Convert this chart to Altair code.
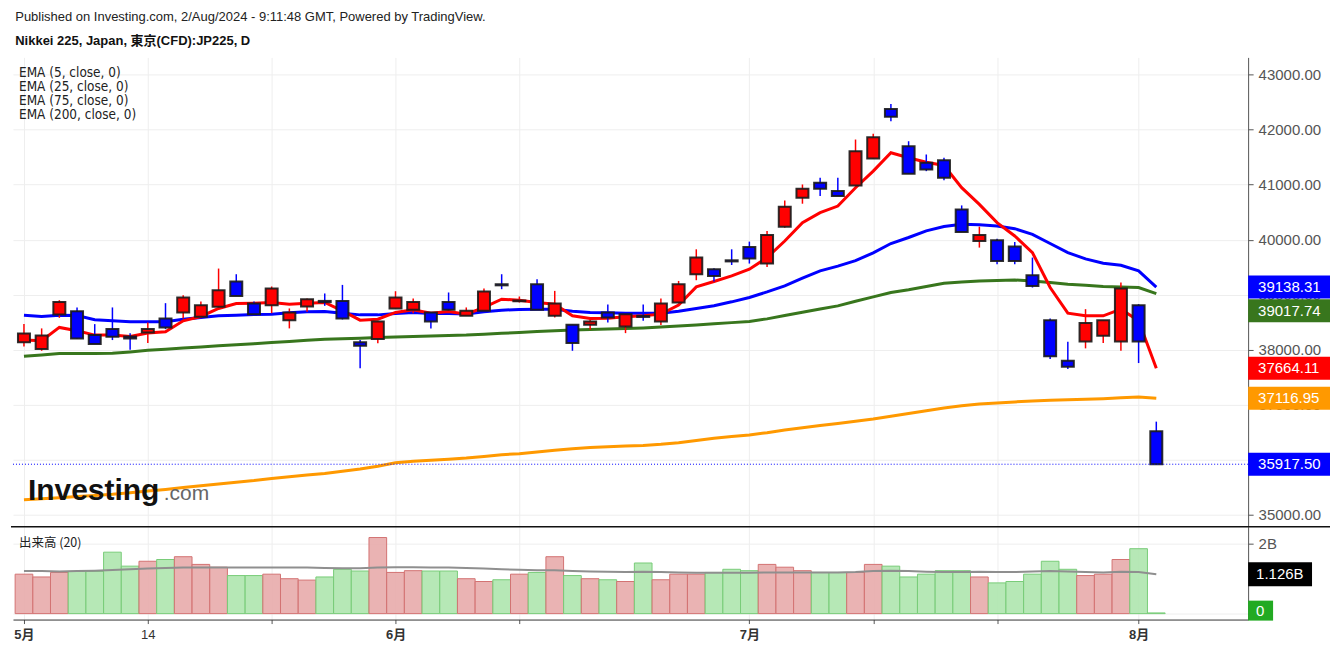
import altair as alt
import pandas as pd

# ---------------- data ----------------
dates = (["2024-05-%02d" % d for d in [1, 2, 7, 8, 9, 10, 13, 14, 15, 16, 17, 20, 21, 22, 23, 24, 27, 28, 29, 30, 31]]
         + ["2024-06-%02d" % d for d in [3, 4, 5, 6, 7, 10, 11, 12, 13, 14, 17, 18, 19, 20, 21, 24, 25, 26, 27, 28]]
         + ["2024-07-%02d" % d for d in [1, 2, 3, 4, 5, 8, 9, 10, 11, 12, 16, 17, 18, 19, 22, 23, 24, 25, 26, 29, 30, 31]]
         + ["2024-08-01", "2024-08-02"])

open_ = [38133, 38011, 38641, 38701, 38265, 38374, 38242, 38314, 38568, 38677,
         38597, 38779, 39239, 38840, 38809, 38537, 38786, 38887, 38887, 38133,
         38193, 38750, 38724, 38677, 38869, 38615, 38706, 39190, 38880, 39190,
         38615, 38452, 38452, 38677, 38423, 38615, 38514, 38858, 39372, 39462,
         39625, 39867, 39566, 40237, 40763, 41035, 40883, 40986, 41476, 42378,
         41699, 41398, 41445, 40551, 39976, 39989, 39874, 39354, 38537, 37799,
         38151, 38253, 38151, 38809, 36518]
high = [38465, 38387, 38900, 38768, 38465, 38768, 38301, 38496, 38846, 38991,
        38877, 39475, 39372, 38877, 39149, 38750, 38931, 39022, 39178, 38175,
        38514, 39063, 38931, 38677, 39040, 38768, 39112, 39372, 38967, 39281,
        39069, 38452, 38555, 38822, 38646, 38822, 38931, 39250, 39825, 39481,
        39825, 39965, 40157, 40714, 41004, 41126, 41126, 41821, 41924, 42468,
        41790, 41549, 41489, 40623, 40237, 40019, 39958, 39675, 38568, 38144,
        38737, 38537, 39221, 38828, 36692]
low = [38060, 37980, 38579, 38205, 38102, 38175, 37999, 38120, 38374, 38568,
       38597, 38779, 38978, 38628, 38664, 38387, 38688, 38797, 38550, 37661,
       38115, 38750, 38664, 38387, 38724, 38615, 38706, 39100, 38858, 38724,
       38586, 37980, 38361, 38496, 38301, 38525, 38447, 38858, 39263, 39239,
       39540, 39566, 39504, 40219, 40654, 40792, 40792, 40986, 41476, 42153,
       41198, 41246, 41082, 40139, 39856, 39553, 39553, 39130, 37830, 37648,
       38024, 38120, 37980, 37757, 35917.5]
close = [38296, 38260, 38869, 38205, 38102, 38234, 38205, 38374, 38405, 38949,
         38809, 39082, 38978, 38646, 39112, 38677, 38918, 38864, 38568, 38071,
         38514, 38949, 38869, 38514, 38724, 38706, 39058, 39170, 38895, 38724,
         38840, 38120, 38514, 38586, 38646, 38595, 38840, 39190, 39675, 39341,
         39605, 39657, 40085, 40600, 40926, 40926, 40792, 41609, 41862, 42233,
         41198, 41276, 41126, 40139, 40085, 39613, 39613, 39160, 37879, 37690,
         38483, 38537, 39112, 38151, 35917.5]

volume_b = [1.13, 1.05, 1.18, 1.21, 1.21, 1.76, 1.36, 1.50, 1.55, 1.63,
            1.41, 1.33, 1.09, 1.09, 1.13, 1.00, 0.96, 1.05, 1.27, 1.22,
            2.18, 1.18, 1.23, 1.22, 1.22, 1.00, 0.92, 0.97, 1.13, 1.18,
            1.63, 1.09, 1.00, 0.97, 0.92, 1.45, 0.97, 1.13, 1.13, 1.18,
            1.27, 1.23, 1.41, 1.33, 1.23, 1.18, 1.18, 1.18, 1.41, 1.36,
            1.05, 1.13, 1.23, 1.23, 1.05, 0.88, 0.92, 1.13, 1.50, 1.27,
            1.09, 1.13, 1.55, 1.86, 0.02]
vol_ma_b = [1.22, 1.22, 1.21, 1.22, 1.23, 1.25, 1.27, 1.29, 1.31, 1.32,
            1.32, 1.32, 1.32, 1.32, 1.32, 1.32, 1.32, 1.31, 1.30, 1.30,
            1.32, 1.33, 1.33, 1.32, 1.32, 1.31, 1.29, 1.27, 1.26, 1.24,
            1.24, 1.22, 1.21, 1.20, 1.19, 1.20, 1.19, 1.18, 1.17, 1.17,
            1.17, 1.17, 1.18, 1.18, 1.18, 1.18, 1.18, 1.19, 1.22, 1.23,
            1.22, 1.20, 1.19, 1.19, 1.20, 1.19, 1.19, 1.21, 1.22, 1.21,
            1.19, 1.18, 1.20, 1.19, 1.126]

ema5 = [38175, 38162, 38405, 38343, 38265, 38265, 38242, 38302, 38325, 38525,
        38604, 38750, 38840, 38846, 38858, 38827, 38846, 38858, 38706, 38537,
        38555, 38677, 38725, 38664, 38695, 38646, 38768, 38918, 38900, 38858,
        38827, 38616, 38568, 38573, 38597, 38616, 38646, 38810, 39142, 39239,
        39341, 39462, 39675, 39976, 40310, 40491, 40611, 40945, 41246, 41580,
        41489, 41409, 41349, 40945, 40642, 40310, 40067, 39765, 39131, 38664,
        38616, 38616, 38737, 38525, 37664.11]
ema25 = [38628, 38604, 38628, 38620, 38543, 38525, 38507, 38507, 38507, 38555,
         38586, 38616, 38628, 38640, 38646, 38670, 38690, 38695, 38664, 38633,
         38633, 38660, 38677, 38659, 38659, 38650, 38690, 38719, 38730, 38737,
         38737, 38700, 38677, 38670, 38664, 38664, 38664, 38700, 38750, 38800,
         38870, 38949, 39050, 39160, 39300, 39432, 39520, 39620, 39760, 39930,
         40040, 40160, 40240, 40279, 40270, 40250, 40200, 40097, 39930, 39765,
         39650, 39571, 39535, 39432, 39138.31]
ema75 = [37880, 37905, 37930, 37930, 37932, 37935, 37960, 37990, 38010, 38030,
         38050, 38070, 38090, 38110, 38130, 38150, 38170, 38190, 38200, 38210,
         38220, 38230, 38240, 38250, 38258, 38265, 38280, 38297, 38314, 38330,
         38345, 38360, 38368, 38376, 38385, 38395, 38412, 38430, 38450, 38470,
         38492, 38514, 38560, 38620, 38680, 38740, 38797, 38880, 38960, 39040,
         39090, 39150, 39208, 39230, 39250, 39260, 39268, 39250, 39220, 39190,
         39170, 39150, 39140, 39131, 39017.74]
ema200 = [35272, 35290, 35310, 35330, 35350, 35370, 35400, 35430, 35460, 35495,
          35526, 35560, 35590, 35620, 35660, 35690, 35720, 35750, 35790, 35830,
          35880, 35943, 35970, 35990, 36010, 36030, 36060, 36090, 36110, 36140,
          36170, 36200, 36220, 36235, 36250, 36260, 36280, 36310, 36350, 36390,
          36420, 36451, 36490, 36540, 36580, 36620, 36660, 36700, 36741, 36790,
          36840, 36890, 36940, 36980, 37014, 37030, 37050, 37068, 37080, 37090,
          37100, 37110, 37125, 37141, 37116.95]

tick_idx = [0, 7, 14, 21, 28, 41, 48, 55, 63]
tick_text = ["5月", "14", "", "6月", "", "7月", "", "", "8月"]
price_ticks = [35000, 36000, 37000, 38000, 39000, 40000, 41000, 42000, 43000]
vol_ticks = [0, 2]

last_values = [39138.31, 37664.11, 37116.95, 35917.50]
last_colors = ["#0000FF", "#FF0000", "#FF9900", "#0000FF"]
ema75_last = [39017.74]
legend_lines = ["EMA (5, close, 0)", "EMA (25, close, 0)", "EMA (75, close, 0)", "EMA (200, close, 0)"]

# ---------------- tables ----------------
df = pd.DataFrame({"idx": list(range(len(dates))), "date": dates, "open": open_, "high": high,
                   "low": low, "close": close, "vol": volume_b, "vma": vol_ma_b,
                   "ema5": ema5, "ema25": ema25, "ema75": ema75, "ema200": ema200})
df["dir"] = ["up" if c >= o else "down" for o, c in zip(open_, close)]

lab = pd.DataFrame({"v": last_values, "c": last_colors, "t": ["%.2f" % v for v in last_values]})
lab75 = pd.DataFrame({"v": ema75_last, "t": ["%.2f" % v for v in ema75_last]})
one = pd.DataFrame({"a": [0]})

W = 1237
HP = 469
HV = 93
BOXW = 82
FONT = "Liberation Sans, Arial, Noto Sans CJK JP"

xs = alt.Scale(domain=[-0.62, 69.19], nice=False, zero=False, padding=0)
ys = alt.Scale(domain=[34800, 43314], nice=False, zero=False, padding=0)
vs = alt.Scale(domain=[-0.17, 2.49], nice=False, zero=False, padding=0)

x_price_axis = alt.Axis(values=tick_idx, grid=True, gridColor="#eeeeee", labels=False, ticks=False,
                        domain=False, title=None)
y_price_axis = alt.Axis(orient="right", values=price_ticks, format=".2f", grid=True, gridColor="#eeeeee",
                        labelFontSize=15, labelColor="#555555", labelFont=FONT, tickColor="#555555",
                        domainColor="#555555", tickSize=5, labelPadding=5, title=None)

base = alt.Chart(df)
X = alt.X("idx:Q", scale=xs, axis=x_price_axis)

lines = []
for col, colr in [("ema200", "#FF9900"), ("ema75", "#38761D"), ("ema25", "#0000FF"), ("ema5", "#FF0000")]:
    lines.append(base.mark_line(color=colr, strokeWidth=3).encode(
        x=X, y=alt.Y(col + ":Q", scale=ys, axis=y_price_axis)))

dir_scale = alt.Scale(domain=["up", "down"], range=["#FF0000", "#0000FF"])
wicks = base.mark_rule(strokeWidth=1.5).encode(
    x=X, y=alt.Y("low:Q", scale=ys), y2="high:Q",
    color=alt.Color("dir:N", scale=dir_scale, legend=None))
bodies = base.mark_bar(width=12, stroke="#1a1a1a", strokeWidth=2, strokeOpacity=0.9).encode(
    x=X, y=alt.Y("open:Q", scale=ys), y2="close:Q",
    color=alt.Color("dir:N", scale=dir_scale, legend=None))

cur_line = alt.Chart(lab.iloc[[3]]).mark_rule(color="#0000FF", strokeDash=[1, 2], strokeWidth=1).encode(
    y=alt.Y("v:Q", scale=ys))

lab_box = alt.Chart(lab).mark_bar(height=23).encode(
    x=alt.value(W), x2=alt.value(W + BOXW), y=alt.Y("v:Q", scale=ys),
    color=alt.Color("c:N", scale=None))
lab_txt = alt.Chart(lab).mark_text(align="left", baseline="middle", color="white", fontSize=15, font=FONT).encode(
    x=alt.value(W + 10), y=alt.Y("v:Q", scale=ys), text="t:N")
lab75_box = alt.Chart(lab75).mark_bar(height=23, color="#38761D", yOffset=17).encode(
    x=alt.value(W), x2=alt.value(W + BOXW), y=alt.Y("v:Q", scale=ys))
lab75_txt = alt.Chart(lab75).mark_text(align="left", baseline="middle", color="white", fontSize=15, font=FONT,
                                       yOffset=17).encode(
    x=alt.value(W + 10), y=alt.Y("v:Q", scale=ys), text="t:N")

legend = alt.Chart(one).mark_text(text=legend_lines, align="left", baseline="top", fontSize=13.5,
                                  lineHeight=14, font="Liberation Sans Narrow, DejaVu Sans Condensed, Arial",
                                  color="#222222").encode(x=alt.value(6), y=alt.value(9))
logo1 = alt.Chart(one).mark_text(text="Investing", align="left", baseline="alphabetic", fontSize=30,
                                 fontWeight="bold", font=FONT, color="#111111").encode(
    x=alt.value(15), y=alt.value(443))
logo2 = alt.Chart(one).mark_text(text=".com", align="left", baseline="alphabetic", fontSize=21,
                                 font=FONT, color="#666666").encode(x=alt.value(151), y=alt.value(443))

price = alt.layer(*lines, wicks, bodies, cur_line, lab_box, lab_txt, lab75_box, lab75_txt,
                  legend, logo1, logo2).properties(width=W, height=HP)

# ---------------- volume panel ----------------
label_expr = " : ".join("datum.value == %d ? '%s'" % (i, t) for i, t in zip(tick_idx, tick_text)) + " : ''"
x_vol_axis = alt.Axis(values=tick_idx, labelExpr=label_expr, grid=True, gridColor="#eeeeee",
                      tickSize=4, tickColor="#555555", domainColor="#333333", labelFontSize=13,
                      labelColor="#333333", labelFont=FONT, labelPadding=5, title=None, labelFlush=False,
                      labelFontWeight={"condition": {"test": "datum.value != 7", "value": "bold"},
                                       "value": "normal"})
y_vol_axis = alt.Axis(orient="right", values=vol_ticks, labelExpr="datum.value == 0 ? '0' : datum.value + 'B'",
                      grid=True, gridColor="#eeeeee", labelFontSize=15, labelColor="#555555", labelFont=FONT,
                      tickColor="#555555", domainColor="#555555", tickSize=5, labelPadding=5, title=None)

vbase = alt.Chart(df)
XV = alt.X("idx:Q", scale=xs, axis=x_vol_axis)
vbars = vbase.mark_bar(width=17.7, strokeWidth=1, fillOpacity=0.9).encode(
    x=XV, y=alt.Y("vol:Q", scale=vs, axis=y_vol_axis), y2=alt.datum(0),
    fill=alt.Fill("dir:N", scale=alt.Scale(domain=["up", "down"], range=["#E8ABAB", "#AEE5AE"]), legend=None),
    stroke=alt.Stroke("dir:N", scale=alt.Scale(domain=["up", "down"], range=["#D37272", "#78CC78"]), legend=None))
vma = vbase.mark_line(color="#8f8f8f", strokeWidth=2).encode(x=XV, y=alt.Y("vma:Q", scale=vs))

vlab = pd.DataFrame({"v": [vol_ma_b[-1]], "t": ["%.3fB" % vol_ma_b[-1]]})
vzero = pd.DataFrame({"v": [0.0], "t": ["0"]})
vlab_box = alt.Chart(vlab).mark_bar(height=24, color="#000000").encode(
    x=alt.value(W), x2=alt.value(W + 64), y=alt.Y("v:Q", scale=vs))
vlab_txt = alt.Chart(vlab).mark_text(align="left", baseline="middle", color="white", fontSize=15, font=FONT).encode(
    x=alt.value(W + 8), y=alt.Y("v:Q", scale=vs), text="t:N")
vzero_box = alt.Chart(vzero).mark_bar(height=20, color="#22AA22", yOffset=-3).encode(
    x=alt.value(W), x2=alt.value(W + 25), y=alt.Y("v:Q", scale=vs))
vzero_txt = alt.Chart(vzero).mark_text(align="left", baseline="middle", color="white", fontSize=15, font=FONT,
                                       yOffset=-3).encode(
    x=alt.value(W + 8), y=alt.Y("v:Q", scale=vs), text="t:N")
vtitle = alt.Chart(one).mark_text(text="出来高 (20)", align="left", baseline="middle", fontSize=12.5,
                                  font="Noto Sans CJK JP", color="#222222").encode(x=alt.value(6), y=alt.value(16))
sep = alt.Chart(one).mark_rule(color="#111111", strokeWidth=1.5).encode(
    x=alt.value(-2), x2=alt.value(W + BOXW), y=alt.value(0))

volume = alt.layer(vbars, vma, vlab_box, vlab_txt, vzero_box, vzero_txt, vtitle, sep).properties(width=W, height=HV)

chart = alt.vconcat(price, volume, spacing=0).properties(
    title=alt.Title("Published on Investing.com, 2/Aug/2024 - 9:11:48 GMT, Powered by TradingView.",
                    subtitle="Nikkei 225, Japan, 東京(CFD):JP225, D", anchor="start", fontSize=13,
                    fontWeight="normal", font=FONT, color="#222222", subtitleFont=FONT, subtitleFontSize=13,
                    subtitleFontWeight="bold", subtitleColor="#111111", subtitlePadding=11, offset=9, dx=5),
    padding={"left": 2, "top": 3, "right": 0, "bottom": 0},
    background="white",
).configure_view(stroke=None).configure_concat(spacing=0)

chart.save("out.html", embed_options={"renderer": "svg", "actions": False})
